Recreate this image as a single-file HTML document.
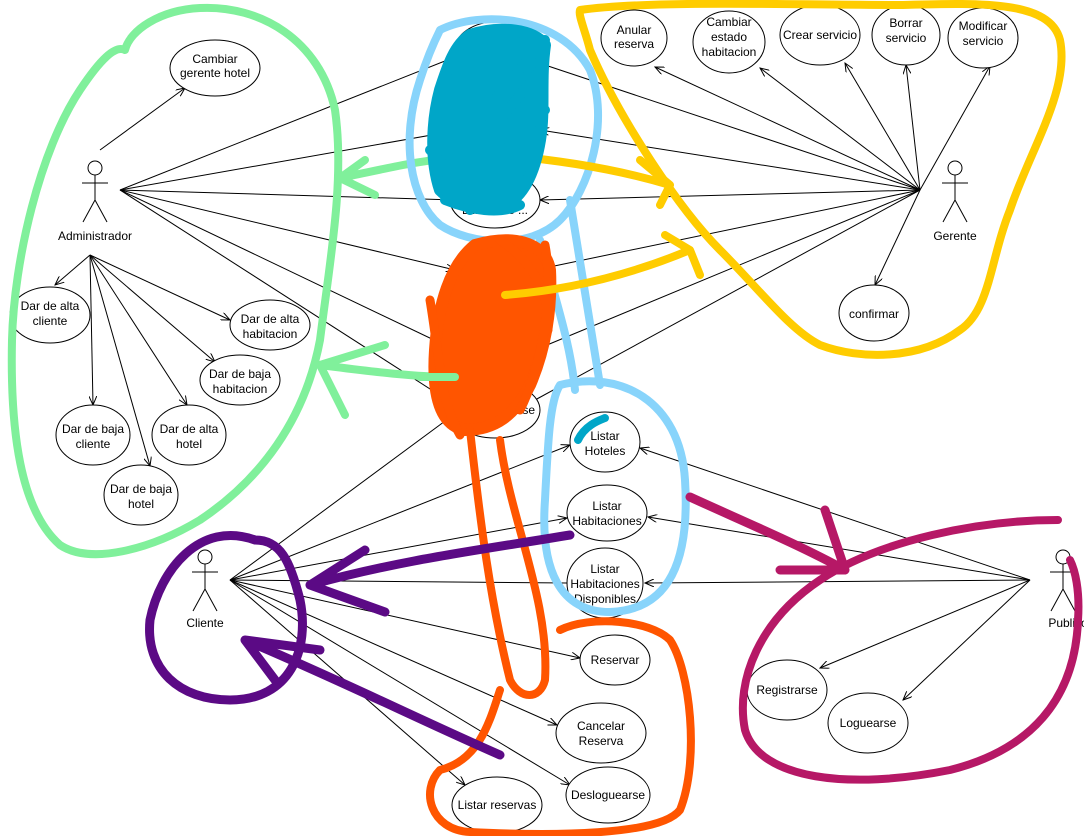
<!DOCTYPE html>
<html><head><meta charset="utf-8"><style>
html,body{margin:0;padding:0;background:#fff;}
svg{display:block;}
text{font-family:"Liberation Sans",Arial,sans-serif;font-size:12px;fill:#000;}
</style></head><body>
<svg width="1084" height="836" viewBox="0 0 1084 836" xmlns="http://www.w3.org/2000/svg">
<defs><marker id="a" markerWidth="10" markerHeight="8" refX="9" refY="4" orient="auto" markerUnits="userSpaceOnUse"><path d="M0,0 L9,4 L0,8" fill="none" stroke="#000" stroke-width="1"/></marker></defs>
<g stroke="#000" stroke-width="1" fill="none">
<line x1="100" y1="150" x2="185" y2="88" marker-end="url(#a)"/>
<line x1="120" y1="190" x2="460" y2="55" marker-end="url(#a)"/>
<line x1="120" y1="190" x2="455" y2="200"/>
<line x1="120" y1="190" x2="455" y2="270" marker-end="url(#a)"/>
<line x1="120" y1="190" x2="455" y2="350"/>
<line x1="120" y1="190" x2="455" y2="405"/>
<line x1="120" y1="190" x2="460" y2="130"/>
<line x1="90" y1="255" x2="55" y2="285" marker-end="url(#a)"/>
<line x1="90" y1="255" x2="230" y2="320" marker-end="url(#a)"/>
<line x1="90" y1="255" x2="215" y2="362" marker-end="url(#a)"/>
<line x1="90" y1="255" x2="93" y2="405" marker-end="url(#a)"/>
<line x1="90" y1="255" x2="187" y2="405" marker-end="url(#a)"/>
<line x1="90" y1="255" x2="150" y2="466" marker-end="url(#a)"/>
<line x1="920" y1="190" x2="655" y2="67" marker-end="url(#a)"/>
<line x1="920" y1="190" x2="760" y2="68" marker-end="url(#a)"/>
<line x1="920" y1="190" x2="845" y2="63" marker-end="url(#a)"/>
<line x1="920" y1="190" x2="906" y2="65" marker-end="url(#a)"/>
<line x1="920" y1="190" x2="990" y2="66" marker-end="url(#a)"/>
<line x1="920" y1="190" x2="875" y2="285" marker-end="url(#a)"/>
<line x1="920" y1="190" x2="540" y2="130" marker-end="url(#a)"/>
<line x1="920" y1="190" x2="540" y2="200" marker-end="url(#a)"/>
<line x1="920" y1="190" x2="535" y2="270"/>
<line x1="920" y1="190" x2="530" y2="60"/>
<line x1="920" y1="190" x2="535" y2="350"/>
<line x1="920" y1="190" x2="535" y2="400"/>
<line x1="230" y1="580" x2="570" y2="445" marker-end="url(#a)"/>
<line x1="230" y1="580" x2="567" y2="518" marker-end="url(#a)"/>
<line x1="230" y1="580" x2="567" y2="583"/>
<line x1="230" y1="580" x2="580" y2="658" marker-end="url(#a)"/>
<line x1="230" y1="580" x2="557" y2="725" marker-end="url(#a)"/>
<line x1="230" y1="580" x2="570" y2="785" marker-end="url(#a)"/>
<line x1="230" y1="580" x2="465" y2="785" marker-end="url(#a)"/>
<line x1="230" y1="580" x2="460" y2="410"/>
<line x1="1030" y1="580" x2="640" y2="448" marker-end="url(#a)"/>
<line x1="1030" y1="580" x2="648" y2="517" marker-end="url(#a)"/>
<line x1="1030" y1="580" x2="645" y2="583" marker-end="url(#a)"/>
<line x1="1030" y1="580" x2="820" y2="668" marker-end="url(#a)"/>
<line x1="1030" y1="580" x2="903" y2="700" marker-end="url(#a)"/>
</g>
<g fill="#fff" stroke="#000" stroke-width="1">
<ellipse cx="215" cy="68" rx="45" ry="28"/>
<ellipse cx="634" cy="38" rx="33" ry="28"/>
<ellipse cx="729" cy="42" rx="36" ry="31"/>
<ellipse cx="820" cy="35" rx="40" ry="30"/>
<ellipse cx="906" cy="35" rx="34" ry="30"/>
<ellipse cx="983" cy="38" rx="35" ry="30"/>
<ellipse cx="874" cy="313" rx="35" ry="28"/>
<ellipse cx="50" cy="315" rx="40" ry="28"/>
<ellipse cx="270" cy="325" rx="40" ry="25"/>
<ellipse cx="240" cy="380" rx="40" ry="25"/>
<ellipse cx="93" cy="435" rx="37" ry="30"/>
<ellipse cx="189" cy="435" rx="37" ry="30"/>
<ellipse cx="141" cy="495" rx="37" ry="30"/>
<ellipse cx="605" cy="442" rx="35" ry="30"/>
<ellipse cx="607" cy="513" rx="40" ry="28"/>
<ellipse cx="605" cy="583" rx="38" ry="35"/>
<ellipse cx="615" cy="660" rx="35" ry="25"/>
<ellipse cx="601" cy="733" rx="45" ry="30"/>
<ellipse cx="608" cy="795" rx="42" ry="28"/>
<ellipse cx="497" cy="805" rx="45" ry="28"/>
<ellipse cx="787" cy="690" rx="40" ry="30"/>
<ellipse cx="868" cy="723" rx="40" ry="30"/>
<ellipse cx="495" cy="50" rx="40" ry="28"/>
<ellipse cx="495" cy="200" rx="45" ry="28"/>
<ellipse cx="495" cy="265" rx="40" ry="25"/>
<ellipse cx="495" cy="350" rx="45" ry="28"/>
<ellipse cx="495" cy="410" rx="45" ry="28"/>
</g>
<g stroke="#000" stroke-width="1" fill="#fff">
<circle cx="95" cy="168" r="7"/><line x1="95" y1="175" x2="95" y2="200"/><line x1="82" y1="183" x2="108" y2="183"/><line x1="95" y1="200" x2="83" y2="222"/><line x1="95" y1="200" x2="107" y2="222"/>
<circle cx="955" cy="168" r="7"/><line x1="955" y1="175" x2="955" y2="200"/><line x1="942" y1="183" x2="968" y2="183"/><line x1="955" y1="200" x2="943" y2="222"/><line x1="955" y1="200" x2="967" y2="222"/>
<circle cx="205" cy="557" r="7"/><line x1="205" y1="564" x2="205" y2="589"/><line x1="192" y1="572" x2="218" y2="572"/><line x1="205" y1="589" x2="193" y2="611"/><line x1="205" y1="589" x2="217" y2="611"/>
<circle cx="1063" cy="557" r="7"/><line x1="1063" y1="564" x2="1063" y2="589"/><line x1="1050" y1="572" x2="1076" y2="572"/><line x1="1063" y1="589" x2="1051" y2="611"/><line x1="1063" y1="589" x2="1075" y2="611"/>
</g>
<g text-anchor="middle">
<text x="95" y="240">Administrador</text>
<text x="955" y="240">Gerente</text>
<text x="205" y="627">Cliente</text>
<text x="1068" y="627">Publico</text>
<text x="215" y="63">Cambiar</text><text x="215" y="77">gerente hotel</text>
<text x="634" y="34">Anular</text><text x="634" y="48">reserva</text>
<text x="729" y="26">Cambiar</text><text x="729" y="41">estado</text><text x="729" y="56">habitacion</text>
<text x="820" y="39">Crear servicio</text>
<text x="906" y="27">Borrar</text><text x="906" y="42">servicio</text>
<text x="983" y="30">Modificar</text><text x="983" y="45">servicio</text>
<text x="874" y="318">confirmar</text>
<text x="50" y="310">Dar de alta</text><text x="50" y="325">cliente</text>
<text x="270" y="323">Dar de alta</text><text x="270" y="338">habitacion</text>
<text x="240" y="378">Dar de baja</text><text x="240" y="393">habitacion</text>
<text x="93" y="433">Dar de baja</text><text x="93" y="448">cliente</text>
<text x="189" y="433">Dar de alta</text><text x="189" y="448">hotel</text>
<text x="141" y="493">Dar de baja</text><text x="141" y="508">hotel</text>
<text x="605" y="440">Listar</text><text x="605" y="455">Hoteles</text>
<text x="607" y="510">Listar</text><text x="607" y="525">Habitaciones</text>
<text x="605" y="573">Listar</text><text x="605" y="588">Habitaciones</text><text x="605" y="603">Disponibles</text>
<text x="615" y="664">Reservar</text>
<text x="601" y="730">Cancelar</text><text x="601" y="745">Reserva</text>
<text x="608" y="799">Desloguearse</text>
<text x="497" y="809">Listar reservas</text>
<text x="787" y="694">Registrarse</text>
<text x="868" y="727">Loguearse</text>
<text x="495" y="214">Dar ... ote ...</text>
<text x="495" y="357">... sera</text>
<text x="500" y="414">... Loguearse</text>
</g>
<g fill="none" stroke-linecap="round" stroke-linejoin="round">
<path d="M125,50 C130,30 160,10 200,8 C260,5 320,40 335,110 C345,180 330,260 320,340 C305,420 260,480 200,520 C150,550 90,565 60,545 C20,510 10,430 12,340 C14,260 40,150 80,90 C100,60 115,45 125,50" stroke="#80f09b" stroke-width="8"/>
<path d="M455,158 C420,160 380,170 340,178 M340,178 L365,160 M340,178 L375,195" stroke="#80f09b" stroke-width="8"/>
<path d="M455,377 C410,377 360,370 320,365 M320,365 L385,345 M320,365 L345,415" stroke="#80f09b" stroke-width="8"/>
<path d="M580,10 C650,0 800,5 900,5 C980,3 1050,0 1060,40 C1070,90 1030,150 1010,210 C990,260 990,310 960,330 C920,360 860,360 820,345 C790,330 760,290 720,250 C680,210 620,120 590,50 C585,30 578,15 580,10" stroke="#ffcc00" stroke-width="8"/>
<path d="M440,30 C480,10 560,15 590,70 C610,120 590,190 560,220 C530,250 470,245 440,225 C410,200 400,140 420,80 C428,55 435,40 440,30" stroke="#88d4fb" stroke-width="8"/>
<path d="M570,200 C580,260 590,320 600,385 M540,240 C555,300 570,340 575,390 M560,385 C620,370 680,400 685,480 C690,560 670,610 610,612 C560,612 540,570 545,500 C548,440 550,400 560,385" stroke="#88d4fb" stroke-width="8"/>
<path d="M500,155 C560,160 620,170 670,185 M670,185 L640,160 M670,185 L660,205" stroke="#ffcc00" stroke-width="8"/>
<!-- teal blob -->
<path d="M470,35 C500,25 535,30 545,45 C540,80 545,110 540,140 C535,170 525,195 505,205 C480,210 455,205 440,190 C430,160 432,120 440,90 C448,65 455,45 470,35 Z" fill="#00a6c8" stroke="#00a6c8" stroke-width="12"/>
<path d="M545,40 C520,70 500,90 480,120 M540,70 L500,120 M545,110 L505,150 M430,150 C450,170 460,190 470,210 M445,200 C470,210 500,215 520,205" stroke="#00a6c8" stroke-width="10"/>
<path d="M578,440 C585,425 600,420 605,418" stroke="#00a6c8" stroke-width="8"/>
<!-- orange blob -->
<path d="M475,245 C510,235 545,240 550,270 C552,310 545,350 530,385 C515,415 495,430 465,430 C440,425 432,395 435,350 C438,305 450,265 475,245 Z" fill="#ff5500" stroke="#ff5500" stroke-width="12"/>
<path d="M545,245 C555,300 540,370 520,410 M430,300 C440,360 440,400 460,435 M500,240 C530,260 550,290 548,330" stroke="#ff5500" stroke-width="9"/>
<path d="M505,295 C570,290 630,275 690,250 M690,250 L665,235 M690,250 L700,275" stroke="#ffcc00" stroke-width="8"/>
<path d="M470,430 C480,520 490,600 510,680 C520,700 540,700 545,680 C550,600 510,520 500,440" stroke="#ff5500" stroke-width="8"/>
<path d="M500,690 C490,720 480,760 440,770 C420,790 430,830 470,832 C550,836 660,836 680,810 C700,760 690,670 670,640 C650,620 590,615 560,630" stroke="#ff5500" stroke-width="8"/>
<path d="M455,377 C440,377 430,377 420,377" stroke="#80f09b" stroke-width="8"/>
<path d="M255,540 C200,520 160,570 150,620 C145,670 180,700 230,700 C290,700 310,650 300,600 C290,560 280,540 255,540" stroke="#5b0a85" stroke-width="9"/>
<path d="M570,535 C480,550 400,560 310,585 M310,585 L365,550 M310,585 L385,612" stroke="#5b0a85" stroke-width="9"/>
<path d="M500,755 C420,720 340,680 245,640 M245,640 L275,680 M245,640 L320,650" stroke="#5b0a85" stroke-width="9"/>
<path d="M1058,520 C980,520 880,540 820,580 C760,620 735,680 745,730 C760,780 850,790 950,770 C1030,750 1075,700 1078,620 C1080,590 1075,570 1070,560" stroke="#b61866" stroke-width="8"/>
<path d="M690,497 C740,520 800,545 845,570 M845,570 L825,510 M845,570 L780,570" stroke="#b61866" stroke-width="9"/>
</g>
</svg>
</body></html>
